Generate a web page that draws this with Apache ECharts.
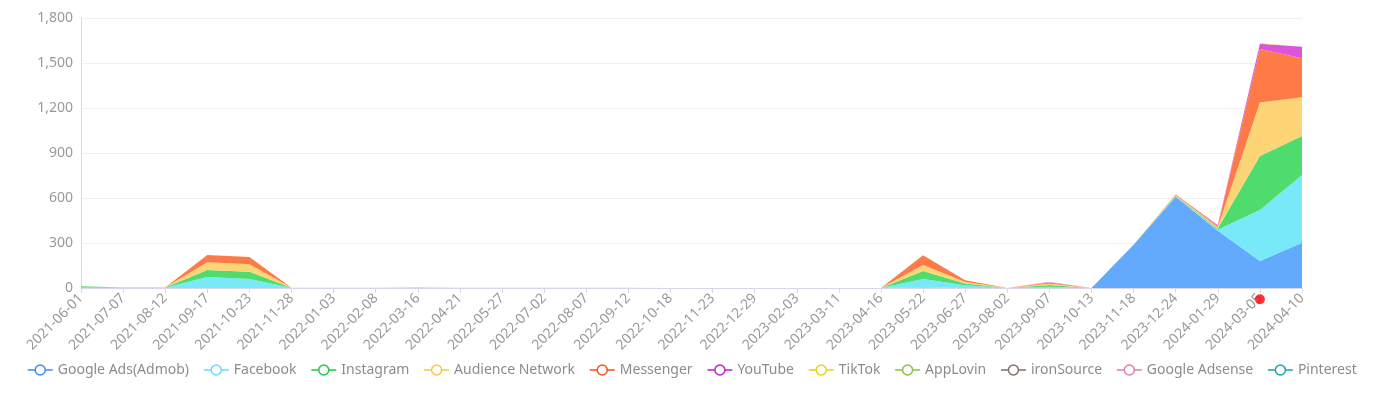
<!DOCTYPE html>
<html>
<head>
<meta charset="utf-8">
<script src="https://cdn.jsdelivr.net/npm/echarts@6/dist/echarts.min.js"></script>
<style>
html,body{margin:0;padding:0;background:#fff;}
#main{width:1399px;height:396px;}
</style>
</head>
<body>
<div id="main"></div>
<script>
const categories = ['2021-06-01','2021-07-07','2021-08-12','2021-09-17','2021-10-23','2021-11-28','2022-01-03','2022-02-08','2022-03-16','2022-04-21','2022-05-27','2022-07-02','2022-08-07','2022-09-12','2022-10-18','2022-11-23','2022-12-29','2023-02-03','2023-03-11','2023-04-16','2023-05-22','2023-06-27','2023-08-02','2023-09-07','2023-10-13','2023-11-18','2023-12-24','2024-01-29','2024-03-05','2024-04-10'];
const seriesNames = ['Google Ads(Admob)','Facebook','Instagram','Audience Network','Messenger','YouTube','TikTok','AppLovin','ironSource','Google Adsense','Pinterest'];
const googleAds      = [0,0,0,0,0,0,0,0,0,0,0,0,0,0,0,0,0,0,0,0,4,0,0,0,0,288,608,382,180,302];
const facebook       = [3,1,1,73,60,2,2,2,2,1,1,1,1,1,0,0,0,0,0,0,56,18,0,8,0,0,4,6,340,451];
const instagram      = [8,2,2,47,49,0,0,0,0,0,0,0,0,0,0,0,0,0,0,0,54,12,0,12,0,0,3,9,360,260];
const audienceNet    = [0,0,0,51,49,0,0,0,4,0,0,0,0,0,0,0,0,0,0,0,40,10,0,8,0,0,4,8,356,258];
const messenger      = [0,0,0,49,49,0,0,0,0,0,0,0,0,0,0,0,0,0,0,0,64,12,0,8,0,0,4,8,357,260];
const youtube        = [0,0,0,0,0,0,0,0,0,0,0,0,0,0,0,0,0,0,0,0,0,0,0,2,0,0,1,5,36,78];
const tiktok         = [0,0,0,0,0,0,0,0,1,0,0,0,0,0,0,0,0,0,0,0,0,0,0,1,0,0,1,1,3,1];
const applovin       = [0,0,0,0,0,0,0,0,0,0,0,0,0,0,0,0,0,0,0,0,0,0,0,0,0,0,0,0,0,0];
const ironSource     = [0,0,0,0,0,0,0,0,0,0,0,0,0,0,0,0,0,0,0,0,0,0,0,0,0,0,0,0,0,0];
const googleAdsense  = [0,0,0,0,0,0,0,0,0,0,0,0,0,0,0,0,0,0,0,0,0,0,0,3,0,0,0,1,0,0];
const pinterest      = [0,0,0,0,0,0,0,0,0,0,0,0,0,0,0,0,0,0,0,0,0,0,0,0,0,0,0,0,0,0];
const yTicks = [0,300,600,900,1200,1500,1800];
const markedPoint = ['2024-03-05', -75];

const allData = [googleAds,facebook,instagram,audienceNet,messenger,youtube,tiktok,applovin,ironSource,googleAdsense,pinterest];
const lineColors = ['#3d8af7','#5fe0f5','#1fc84a','#f8c548','#f4511e','#c21fc2','#e6d21a','#8fbf4a','#8a6a6a','#e67ab4','#1aa5a5'];
const areaColors = ['#63aafd','#78e9f9','#4fdc6e','#fdd577','#fe7b48','#db55db','#f3e25a','#b0d47a','#b09090','#f0a0cc','#5fc8c8'];

const series = seriesNames.map((n,i)=>({
  name:n, type:'line', stack:'total', data:allData[i],
  symbol:'emptyCircle', showSymbol:false, symbolSize:6,
  itemStyle:{color:lineColors[i]},
  lineStyle:{width:0, color:lineColors[i]},
  areaStyle:{color:areaColors[i], opacity:1},
  emphasis:{disabled:true}
}));
series.push({
  name:'marker', type:'scatter', clip:false, symbol:'circle', symbolSize:10,
  itemStyle:{color:'#ff0000'}, data:[markedPoint], silent:true, z:10
});

const chart = echarts.init(document.getElementById('main'));
chart.setOption({
  animation:false,
  textStyle:{fontFamily:'"Noto Sans", sans-serif'},
  grid:{left:81,right:97,top:18,bottom:108,containLabel:false},
  legend:{
    bottom:14, left:22, itemWidth:25, itemHeight:14, itemGap:14,
    icon:'path://M0,7L8,7M17,7L25,7M12.5,2A5,5,0,1,1,12.49,2Z',
    textStyle:{color:'#8c8c8c', fontSize:14},
    data:seriesNames.map((n,i)=>({name:n, itemStyle:{color:'#fff', borderColor:lineColors[i], borderWidth:1.5}, lineStyle:{color:lineColors[i], width:1.5}}))
  },
  xAxis:{
    type:'category', boundaryGap:false, data:categories,
    axisLine:{lineStyle:{color:'#d5d9e6'}},
    axisTick:{show:true, alignWithLabel:true, lineStyle:{color:'#d5d9e6'}},
    axisLabel:{rotate:45, interval:0, color:'#999', fontSize:14, margin:8}
  },
  yAxis:{
    type:'value', min:yTicks[0], max:yTicks[yTicks.length-1], interval:yTicks[1]-yTicks[0],
    axisLine:{show:true, lineStyle:{color:'#d5d9e6'}},
    axisTick:{show:false},
    splitLine:{lineStyle:{color:'#f0f0f3'}},
    axisLabel:{color:'#999', fontSize:14, margin:8, formatter:v=>v.toLocaleString('en-US')}
  },
  series:series
});
</script>
</body>
</html>
